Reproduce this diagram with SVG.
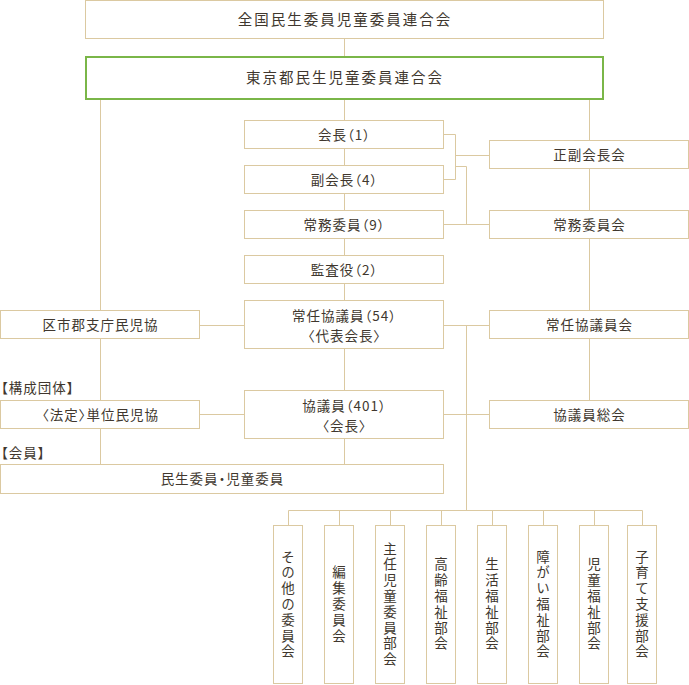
<svg xmlns="http://www.w3.org/2000/svg" width="689" height="685" viewBox="0 0 689 685">
<style>
.b{fill:#fff;stroke:#dbc9a1;stroke-width:1}
.g{fill:#fff;stroke:#7ab648;stroke-width:2}
.c{fill:none;stroke:#dbc9a1;stroke-width:1}
text{font-family:"Noto Sans CJK JP","Noto Sans",sans-serif;fill:#40372e;font-size:13.5px;font-feature-settings:"palt";letter-spacing:1px}
.t{text-anchor:middle}
.h{font-size:14.5px;letter-spacing:2px}
.v{writing-mode:vertical-rl;text-orientation:upright;letter-spacing:2.3px;text-anchor:middle;font-feature-settings:normal}
</style>
<rect width="689" height="685" fill="#fff"/>
<g id="connectors" class="c">
<path d="M344.5 39V57M344.5 99V120M344.5 149V165M344.5 194V210M344.5 239V255M344.5 284V300M344.5 349V390M344.5 439V464"/>
<path d="M100.5 99V310M100.5 339V400M100.5 429V464"/>
<path d="M589.5 99V140M589.5 169V210M589.5 239V310M589.5 339V400"/>
<path d="M443 134.5H455.5V179.5H443M455.5 155.5H489M455.5 166.5H466.5V224.5M443 224.5H489"/>
<path d="M199 325.5H244M199 414.5H244M443 325.5H489M443 414.5H489M466.5 325V510"/>
<path d="M288.5 525V510.5H642.5V525M339.5 510V525M390.5 510V525M441.5 510V525M492.5 510V525M543.5 510V525M594.5 510V525"/>
</g>
<g id="zenkoku"><rect class="b" x="85.5" y="0.5" width="518" height="38"/><text class="t h" x="345" y="25">全国民生委員児童委員連合会</text></g>
<g id="tokyo"><rect class="g" x="86" y="57" width="517" height="42"/><text class="t h" x="345" y="83">東京都民生児童委員連合会</text></g>
<g id="kaicho"><rect class="b" x="244.5" y="120.5" width="199" height="28"/><text class="t" x="344.5" y="139.5">会長（1）</text></g>
<g id="fukukaicho"><rect class="b" x="244.5" y="165.5" width="199" height="28"/><text class="t" x="344.5" y="184.5">副会長（4）</text></g>
<g id="jomu"><rect class="b" x="244.5" y="210.5" width="199" height="28"/><text class="t" x="344.5" y="229.5">常務委員（9）</text></g>
<g id="kansa"><rect class="b" x="244.5" y="255.5" width="199" height="28"/><text class="t" x="344.5" y="274.5">監査役（2）</text></g>
<g id="jonin"><rect class="b" x="244.5" y="300.5" width="199" height="48"/><text class="t" x="344.5" y="321">常任協議員（54）</text><text class="t" x="344.5" y="341">〈代表会長〉</text></g>
<g id="kyogiin"><rect class="b" x="244.5" y="390.5" width="199" height="48"/><text class="t" x="344.5" y="411">協議員（401）</text><text class="t" x="344.5" y="431">〈会長〉</text></g>
<g id="minsei"><rect class="b" x="0.5" y="464.5" width="443" height="29"/><text class="t" x="222.5" y="484">民生委員・児童委員</text></g>
<g id="seifuku"><rect class="b" x="489.5" y="140.5" width="199" height="28"/><text class="t" x="589.5" y="159.5">正副会長会</text></g>
<g id="jomukai"><rect class="b" x="489.5" y="210.5" width="199" height="28"/><text class="t" x="589.5" y="229.5">常務委員会</text></g>
<g id="joninkai"><rect class="b" x="489.5" y="310.5" width="199" height="28"/><text class="t" x="589.5" y="329.5">常任協議員会</text></g>
<g id="sokai"><rect class="b" x="489.5" y="400.5" width="199" height="28"/><text class="t" x="589.5" y="419.5">協議員総会</text></g>
<g id="kushi"><rect class="b" x="0.5" y="310.5" width="199" height="28"/><text class="t" x="100.5" y="329.5">区市郡支庁民児協</text></g>
<g id="hotei"><rect class="b" x="0.5" y="400.5" width="199" height="28"/><text class="t" x="100.5" y="419.5">〈法定〉単位民児協</text></g>
<text x="1" y="393">【構成団体】</text>
<text x="1" y="458">【会員】</text>
<g id="sonota"><rect class="b" x="273.5" y="525.5" width="29" height="158"/><text class="v" x="288" y="605">その他の委員会</text></g>
<g id="henshu"><rect class="b" x="324.5" y="525.5" width="29" height="158"/><text class="v" x="339" y="605">編集委員会</text></g>
<g id="shunin"><rect class="b" x="375.5" y="525.5" width="29" height="158"/><text class="v" x="390" y="605">主任児童委員部会</text></g>
<g id="koreisha"><rect class="b" x="426.5" y="525.5" width="29" height="158"/><text class="v" x="441" y="605">高齢福祉部会</text></g>
<g id="seikatsu"><rect class="b" x="477.5" y="525.5" width="29" height="158"/><text class="v" x="492" y="605">生活福祉部会</text></g>
<g id="shogai"><rect class="b" x="528.5" y="525.5" width="29" height="158"/><text class="v" x="543" y="605">障がい福祉部会</text></g>
<g id="jido"><rect class="b" x="579.5" y="525.5" width="29" height="158"/><text class="v" x="594" y="605">児童福祉部会</text></g>
<g id="kosodate"><rect class="b" x="627.5" y="525.5" width="29" height="158"/><text class="v" x="642" y="605">子育て支援部会</text></g>
</svg>
